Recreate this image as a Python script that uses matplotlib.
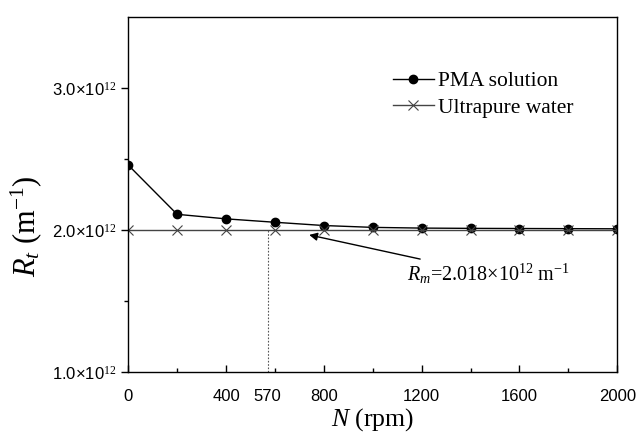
import numpy as np
import matplotlib.pyplot as plt
from matplotlib.ticker import FixedLocator

# rotation speed (rpm)
N = [0, 200, 400, 600, 800, 1000, 1200, 1400, 1600, 1800, 2000]
# total resistance, m^-1
pma = [2.457e12, 2.110e12, 2.078e12, 2.054e12, 2.031e12, 2.018e12,
       2.013e12, 2.011e12, 2.010e12, 2.009e12, 2.008e12]
water = [2.0e12] * len(N)

x_ticks = [0, 400, 570, 800, 1200, 1600, 2000]
x_minor = [200, 600, 1000, 1400, 1800]
y_ticks = [1.0e12, 2.0e12, 3.0e12]
y_ticklabels = ['1.0×10$^{12}$', '2.0×10$^{12}$', '3.0×10$^{12}$']
n_crit = 570
rm_label = '$\\mathit{R_m}$=2.018×10$^{12}$ m$^{-1}$'

plt.rcParams['mathtext.fontset'] = 'custom'
plt.rcParams['mathtext.rm'] = 'Liberation Serif'
plt.rcParams['mathtext.it'] = 'Liberation Serif:italic'

fig = plt.figure(figsize=(6.41, 4.34), dpi=100)
ax = fig.add_axes([0.2, 0.143, 0.763, 0.818])

ax.plot(N, pma, color='black', lw=1.0, marker='o', ms=6, label='PMA solution')
ax.plot(N, water, color='#444444', lw=1.0, marker='x', ms=7, mew=0.8,
        mec='#444444', label='Ultrapure water')

ax.plot([n_crit, n_crit], [1.0e12, water[0]], color='#555555', lw=0.8, ls=(0, (1.5, 1.5)))

ax.annotate(rm_label, xy=(740, 1.965e12), xytext=(1140, 1.69e12),
            fontsize=14.5, family='Liberation Serif', va='center',
            arrowprops=dict(arrowstyle='-|>', color='black', lw=1.0,
                            mutation_scale=12, shrinkA=0, shrinkB=0))

ax.set_xlim(0, 2000)
ax.set_ylim(1.0e12, 3.5e12)
ax.set_xticks(x_ticks)
ax.set_xticklabels([str(t) for t in x_ticks], family='Liberation Sans', fontsize=12)
ax.xaxis.set_minor_locator(FixedLocator(x_minor))
ax.set_yticks(y_ticks)
ax.set_yticklabels(y_ticklabels, family='Liberation Sans', fontsize=12)
ax.yaxis.set_minor_locator(FixedLocator([1.5e12, 2.5e12]))
ax.tick_params(axis='y', which='major', direction='out', length=5, width=1)
ax.tick_params(axis='y', which='minor', direction='out', length=3, width=1)
ax.tick_params(axis='x', which='major', direction='in', length=5, width=1, pad=12)
ax.tick_params(axis='x', which='minor', direction='in', length=3, width=1)
# no tick mark for the 570 label
ax.xaxis.get_major_ticks()[2].tick1line.set_visible(False)

ax.set_xlabel('$\\mathit{N}$ (rpm)', fontsize=18.5, family='Liberation Serif', labelpad=2)
ax.set_ylabel('$\\mathit{R_t}$ (m$^{-1}$)', fontsize=22, family='Liberation Serif')
ax.yaxis.set_label_coords(-0.172, 0.41)

for s in ax.spines.values():
    s.set_linewidth(1.0)

ax.legend(loc='upper left', bbox_to_anchor=(0.523, 0.872), frameon=False,
          prop={'family': 'Liberation Serif', 'size': 15.5}, handlelength=1.9,
          handletextpad=0.2, labelspacing=0.3, borderaxespad=0)

fig.savefig('out.png', dpi=100)
